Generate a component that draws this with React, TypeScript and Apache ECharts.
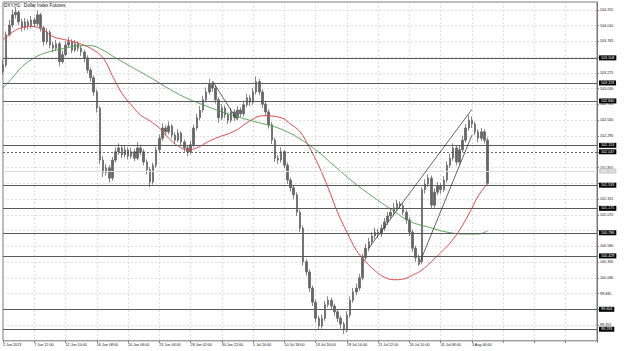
import React, { useEffect, useRef } from "react";
import * as echarts from "echarts";

// ---- axis constants ----
const BASE = 99.11; // price at the lower edge of the plot
const STEP = 0.245; // price-axis label step
const AXIS_TOP = 104.379; // price at the upper edge of the plot
const SLOT_COUNT = 191; // time slots across the plot
const SLOTS_PER_LABEL = 10;

const title = "DXY,H1:  Dollar Index Futures";

const dateLabels = [
  "2 Jun 2023", "7 Jun 12:00", "12 Jun 10:00", "16 Jun 08:00", "20 Jun 06:00",
  "23 Jun 04:00", "28 Jun 02:00", "30 Jun 22:00", "5 Jul 20:00", "10 Jul 18:00",
  "13 Jul 16:00", "19 Jul 14:00", "21 Jul 12:00", "26 Jul 10:00", "31 Jul 08:00",
  "3 Aug 06:00",
];

// ---- price candles (open = previous close) ----
const firstOpen = 103.30;
const closes = [
  103.40, 103.87, 104.02, 104.18, 104.22, 104.07, 103.98, 104.07, 104.01, 104.10,
  104.04, 104.18, 103.98, 103.76, 103.91, 103.71, 103.66, 103.73, 103.45, 103.56,
  103.71, 103.76, 103.63, 103.73, 103.66, 103.60, 103.51, 103.32, 103.20, 102.98,
  102.73, 101.92, 101.73, 101.80, 101.64, 101.92, 102.05, 102.11, 102.00, 102.08,
  101.98, 102.05, 101.95, 102.11, 102.05, 101.89, 101.77, 101.58, 101.84, 102.08,
  102.26, 102.42, 102.36, 102.45, 102.31, 102.23, 102.34, 102.20, 102.11, 102.05,
  102.16, 102.42, 102.58, 102.70, 102.86, 102.98, 103.10, 103.04, 102.86, 102.58,
  102.73, 102.62, 102.54, 102.67, 102.58, 102.70, 102.64, 102.78, 102.89, 102.82,
  102.98, 103.14, 102.98, 102.79, 102.67, 102.47, 102.23, 101.95, 101.92, 102.05,
  101.84, 101.61, 101.49, 101.38, 101.11, 100.86, 100.34, 100.18, 99.93, 99.71,
  99.46, 99.34, 99.46, 99.67, 99.74, 99.65, 99.56, 99.46, 99.37, 99.28,
  99.51, 99.74, 99.87, 99.93, 100.09, 100.40, 100.55, 100.65, 100.74, 100.80,
  100.77, 100.86, 100.96, 101.05, 101.11, 101.18, 101.24, 101.21, 101.11, 100.99,
  100.80, 100.55, 100.40, 100.34, 101.46, 101.55, 101.64, 101.22, 101.42, 101.52,
  101.46, 101.61, 101.84, 101.95, 102.11, 101.89, 102.08, 102.23, 102.42, 102.54,
  102.48, 102.36, 102.26, 102.36, 102.23, 101.56,
];
const highs = [
  103.47, 103.92, 104.10, 104.26, 104.30, 104.25, 104.12, 104.13, 104.11, 104.16,
  104.14, 104.25, 104.21, 104.00, 103.97, 103.94, 103.76, 103.79, 103.76, 103.62,
  103.77, 103.83, 103.80, 103.79, 103.77, 103.70, 103.64, 103.55, 103.36, 103.24,
  103.02, 102.76, 101.98, 101.86, 101.84, 101.97, 102.12, 102.18, 102.15, 102.14,
  102.12, 102.11, 102.09, 102.20, 102.16, 102.09, 101.93, 101.81, 101.88, 102.13,
  102.32, 102.49, 102.46, 102.52, 102.48, 102.35, 102.40, 102.37, 102.24, 102.15,
  102.22, 102.47, 102.64, 102.76, 102.92, 103.05, 103.18, 103.14, 103.08, 102.90,
  102.79, 102.77, 102.66, 102.73, 102.71, 102.76, 102.74, 102.84, 102.95, 102.93,
  103.04, 103.22, 103.18, 103.02, 102.83, 102.71, 102.51, 102.27, 102.00, 102.12,
  102.08, 101.88, 101.65, 101.53, 101.42, 101.15, 100.90, 100.38, 100.22, 99.97,
  99.75, 99.50, 99.52, 99.73, 99.80, 99.78, 99.69, 99.60, 99.50, 99.41,
  99.57, 99.80, 99.93, 100.00, 100.15, 100.46, 100.62, 100.71, 100.80, 100.87,
  100.85, 100.92, 101.02, 101.11, 101.17, 101.25, 101.30, 101.28, 101.25, 101.15,
  101.03, 100.84, 100.59, 100.45, 101.50, 101.62, 101.70, 101.68, 101.48, 101.58,
  101.56, 101.67, 101.90, 102.02, 102.18, 102.15, 102.14, 102.30, 102.48, 102.62,
  102.60, 102.52, 102.40, 102.42, 102.40, 102.27,
];
const lows = [
  103.25, 103.36, 103.84, 103.98, 104.12, 104.02, 103.92, 103.94, 103.95, 103.97,
  103.99, 104.00, 103.92, 103.70, 103.72, 103.66, 103.60, 103.62, 103.38, 103.42,
  103.53, 103.67, 103.58, 103.60, 103.61, 103.54, 103.44, 103.27, 103.14, 102.92,
  102.66, 101.86, 101.66, 101.68, 101.57, 101.60, 101.88, 102.00, 101.95, 101.96,
  101.93, 101.94, 101.90, 101.92, 102.00, 101.84, 101.70, 101.50, 101.54, 101.80,
  102.04, 102.22, 102.30, 102.32, 102.26, 102.17, 102.20, 102.15, 102.05, 101.98,
  102.01, 102.12, 102.38, 102.54, 102.66, 102.82, 102.94, 102.98, 102.80, 102.50,
  102.54, 102.57, 102.48, 102.50, 102.53, 102.55, 102.59, 102.60, 102.74, 102.76,
  102.78, 102.94, 102.93, 102.73, 102.61, 102.41, 102.17, 101.89, 101.86, 101.88,
  101.79, 101.55, 101.43, 101.31, 101.05, 100.80, 100.28, 100.12, 99.87, 99.65,
  99.40, 99.28, 99.30, 99.42, 99.63, 99.60, 99.50, 99.40, 99.30, 99.22,
  99.24, 99.47, 99.70, 99.82, 99.89, 100.05, 100.36, 100.50, 100.60, 100.69,
  100.71, 100.72, 100.82, 100.91, 101.00, 101.06, 101.13, 101.16, 101.06, 100.93,
  100.74, 100.49, 100.34, 100.28, 100.30, 101.40, 101.50, 101.16, 101.18, 101.38,
  101.40, 101.42, 101.57, 101.80, 101.91, 101.84, 101.85, 102.04, 102.19, 102.38,
  102.42, 102.31, 102.20, 102.22, 102.18, 101.54,
];

// ---- moving averages: [slot, price] ----
const redMA = [
  [0, 103.79], [3, 103.91], [6, 103.98], [9, 104.0], [13, 103.94], [16, 103.84],
  [20, 103.79], [24, 103.74], [28, 103.66], [32, 103.51], [35, 103.23], [38, 102.96],
  [41, 102.78], [44, 102.62], [47, 102.53], [50, 102.42], [53, 102.26], [56, 102.14],
  [59, 102.08], [62, 102.11], [65, 102.19], [68, 102.26], [74, 102.37], [79, 102.53],
  [83, 102.61], [89, 102.58], [92, 102.48], [95, 102.36], [98, 102.12], [101, 101.83],
  [104, 101.49], [107, 101.11], [110, 100.8], [113, 100.52], [116, 100.34], [119, 100.2],
  [122, 100.1], [125, 100.06], [128, 100.07], [131, 100.13], [134, 100.21], [137, 100.34],
  [140, 100.48], [143, 100.63], [146, 100.83], [149, 101.08], [152, 101.36], [155, 101.56],
];
const greenMA = [
  [0, 103.04], [3, 103.2], [6, 103.37], [9, 103.48], [12, 103.56], [16, 103.62],
  [20, 103.66], [24, 103.7], [28, 103.7], [32, 103.63], [36, 103.51], [40, 103.4],
  [44, 103.29], [48, 103.18], [52, 103.06], [58, 102.9], [64, 102.78], [70, 102.67],
  [76, 102.58], [82, 102.5], [88, 102.42], [94, 102.28], [100, 102.08], [106, 101.83],
  [112, 101.58], [118, 101.36], [124, 101.16], [130, 100.97], [136, 100.88], [142, 100.8],
  [148, 100.77], [152, 100.77], [155, 100.82],
];

// ---- drawn objects ----
const levelLines = [103.508, 103.119, 102.84, 102.153, 101.533, 101.175, 100.786, 100.429, 99.604, 99.293];
const bidLine = 102.047;
const askLine = 101.751;
const trendLines = [
  [[117, 100.55], [150, 102.71]],
  [[133, 100.29], [150, 102.31]],
  [[67, 103.15], [75, 102.54]],
];

const FONT = "Liberation Sans";
const TXT = 3.7;

export default function App() {
  const ref = useRef<HTMLDivElement>(null);

  useEffect(() => {
    document.body.style.margin = "0";
    if (!ref.current) return;
    const chart = echarts.init(ref.current, undefined, { renderer: "svg" });

    const slots = Array.from({ length: SLOT_COUNT }, (_, i) => String(i));
    const candles = closes.map((c, i) => {
      const o = i === 0 ? firstOpen : closes[i - 1];
      return [o - BASE, c - BASE, lows[i] - BASE, highs[i] - BASE];
    });
    const shift = (pts: number[][]) => pts.map(([x, y]) => [x, y - BASE]);
    const markedLevels = [...levelLines, bidLine, askLine];

    const levelLabel = {
      position: "end" as const,
      distance: 2,
      fontSize: TXT,
      fontFamily: FONT,
      color: "#fff",
      backgroundColor: "#000",
      padding: [1, 2, 0, 2],
    };

    const option: any = {
      animation: false,
      backgroundColor: "#fff",
      grid: {
        left: 2,
        right: 27,
        top: 2,
        bottom: 10.2,
        show: true,
        borderColor: "#777",
        borderWidth: 1,
      },
      graphic: [
        {
          type: "text",
          left: 4,
          top: 3,
          style: { text: title, fontSize: 4.6, fontFamily: FONT, fill: "#111" },
          z: 100,
        },
      ],
      xAxis: {
        type: "category",
        data: slots,
        boundaryGap: false,
        axisLine: { show: false },
        axisTick: { show: true, interval: SLOTS_PER_LABEL - 1, length: 2, lineStyle: { color: "#777" } },
        axisLabel: {
          interval: SLOTS_PER_LABEL - 1,
          align: "left",
          margin: 2.5,
          fontSize: TXT,
          fontFamily: FONT,
          color: "#111",
          formatter: (_v: string, idx: number) =>
            idx % SLOTS_PER_LABEL === 0 ? dateLabels[idx / SLOTS_PER_LABEL] ?? "" : "",
        },
        splitLine: {
          show: true,
          interval: SLOTS_PER_LABEL - 1,
          lineStyle: { color: "#c8c8c8", type: [2, 2], width: 0.6 },
        },
      },
      yAxis: {
        type: "value",
        position: "right",
        min: 0,
        max: AXIS_TOP - BASE,
        interval: STEP,
        axisLine: { show: true, lineStyle: { color: "#777" } },
        axisTick: { show: true, length: 2, lineStyle: { color: "#777" } },
        axisLabel: {
          showMinLabel: false,
          showMaxLabel: false,
          margin: 3,
          fontSize: TXT,
          fontFamily: FONT,
          color: "#111",
          formatter: (v: number) => {
            const p = v + BASE;
            // a tick label hidden under a level's price box is not drawn
            return markedLevels.some((l) => Math.abs(l - p) < 0.045) ? "" : p.toFixed(3);
          },
        },
        splitLine: {
          show: true,
          lineStyle: { color: "#c8c8c8", type: [2, 2], width: 0.6 },
        },
      },
      series: [
        {
          type: "candlestick",
          data: candles,
          barWidth: 2,
          itemStyle: {
            color: "#666",
            color0: "#666",
            borderColor: "#666",
            borderColor0: "#666",
            borderWidth: 0.8,
          },
          markLine: {
            silent: true,
            symbol: "none",
            animation: false,
            data: [
              ...levelLines.map((v) => ({
                yAxis: v - BASE,
                lineStyle: { color: "#5a5a5a", type: "solid", width: 1 },
                label: { ...levelLabel, formatter: v.toFixed(3) },
              })),
              {
                yAxis: bidLine - BASE,
                lineStyle: { color: "#333", type: [2, 2], width: 0.7 },
                label: { ...levelLabel, formatter: bidLine.toFixed(3) },
              },
              {
                yAxis: askLine - BASE,
                lineStyle: { color: "#dcdcdc", type: "solid", width: 1 },
                label: {
                  ...levelLabel,
                  color: "#fff",
                  backgroundColor: "#cfcfcf",
                  formatter: askLine.toFixed(3),
                },
              },
            ],
          },
          z: 3,
        },
        {
          type: "line",
          data: shift(redMA),
          smooth: 0.4,
          symbol: "none",
          lineStyle: { color: "#e04a4a", width: 1 },
          z: 4,
        },
        {
          type: "line",
          data: shift(greenMA),
          smooth: 0.4,
          symbol: "none",
          lineStyle: { color: "#4a9e4a", width: 0.9 },
          z: 4,
        },
        ...trendLines.map((seg) => ({
          type: "line",
          data: shift(seg),
          symbol: "none",
          lineStyle: { color: "#222", width: 0.7 },
          z: 5,
        })),
      ],
    };

    chart.setOption(option);
    return () => chart.dispose();
  }, []);

  return <div ref={ref} style={{ width: 624, height: 351 }} />;
}
